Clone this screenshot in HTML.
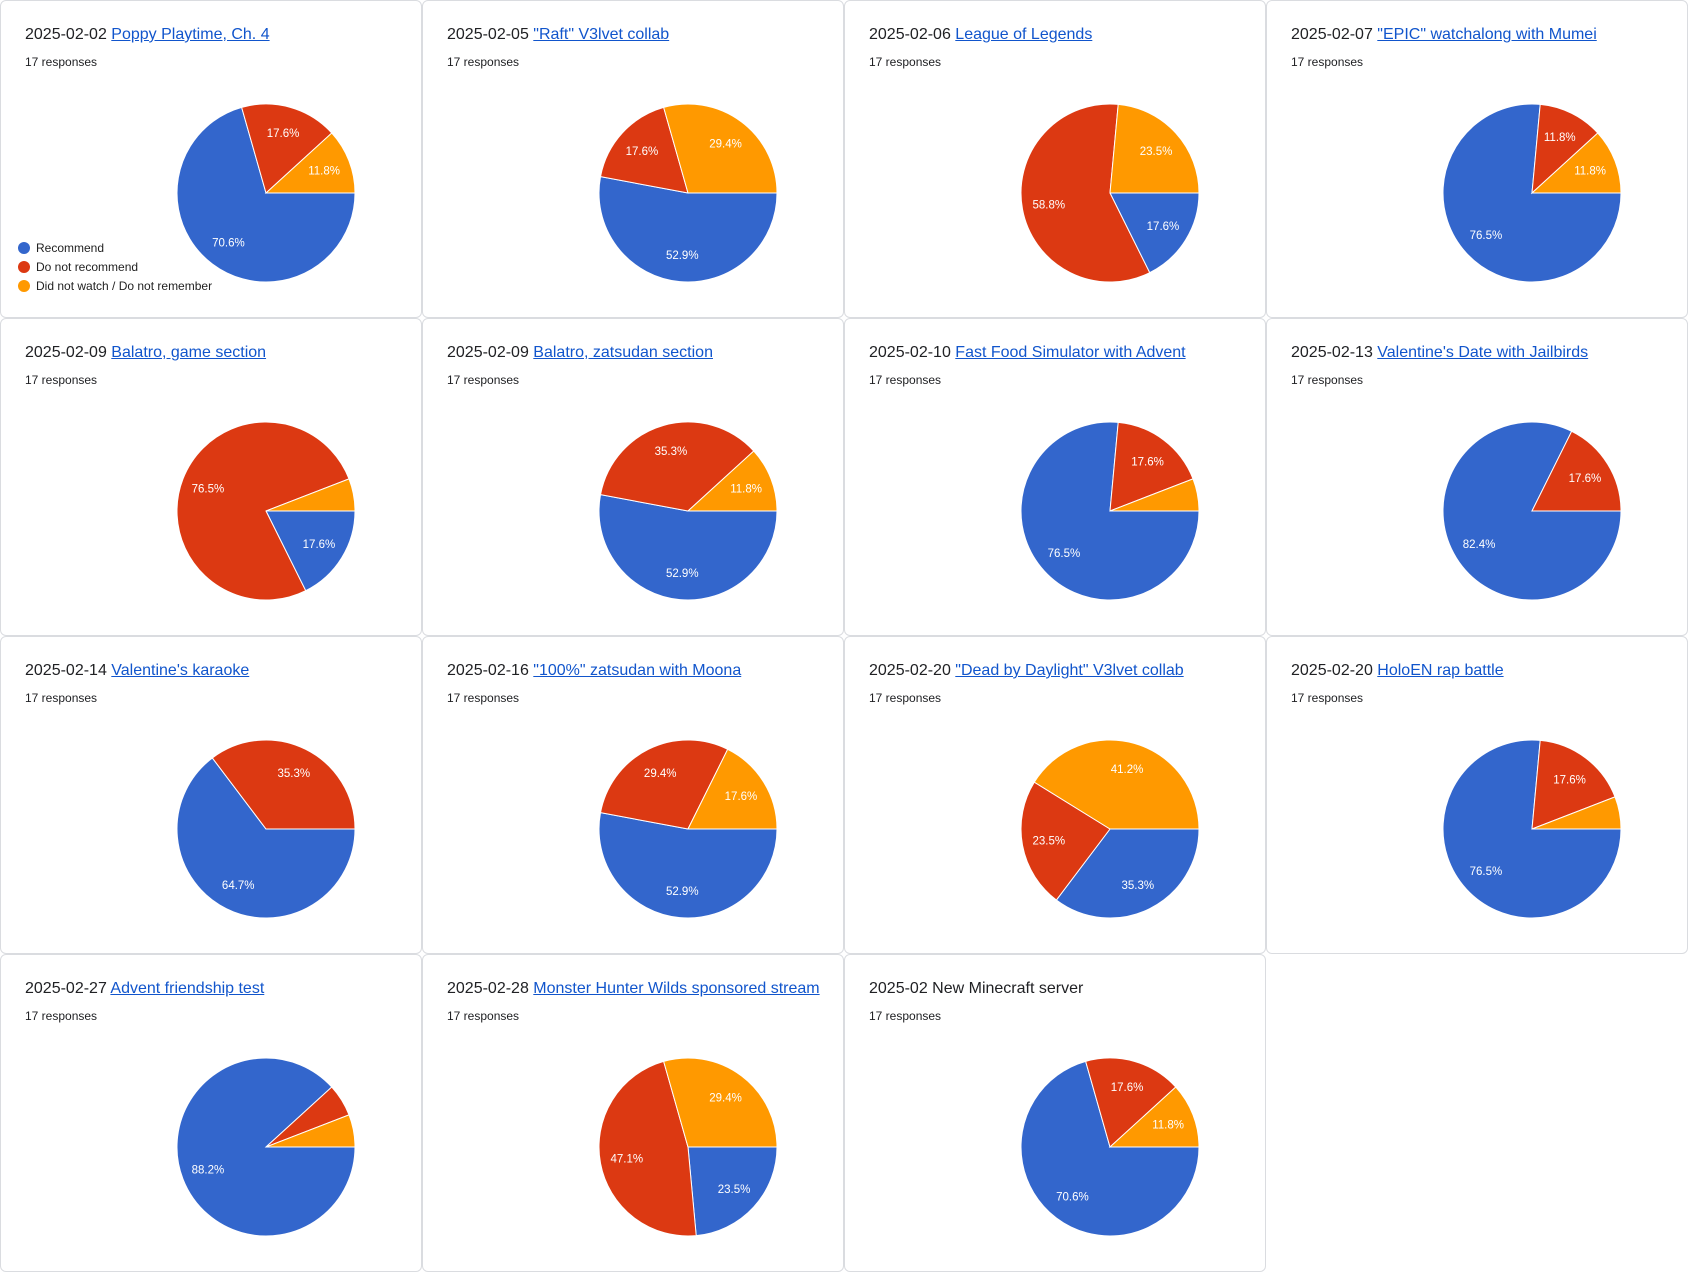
<!DOCTYPE html>
<html><head><meta charset="utf-8">
<style>
html,body{margin:0;padding:0;background:#fff;}
body{width:1688px;height:1272px;position:relative;overflow:hidden;font-family:"Liberation Sans",Arial,sans-serif;}
.card{position:absolute;width:420px;height:316px;border:1px solid #dadce0;border-radius:6px;background:#fff;box-sizing:content-box;}
.title{position:absolute;left:24px;top:25px;font-size:16px;color:#202124;white-space:nowrap;}
.title a{color:#1155cc;text-decoration:underline;}
.resp{position:absolute;left:24px;top:54px;font-size:12px;color:#202124;}
svg.pie{position:absolute;left:0;top:0;}
.legend{position:absolute;left:17px;top:237px;font-size:12px;color:#222;}
.legend div{height:19px;display:flex;align-items:center;}
.legend span.dot{width:12px;height:12px;border-radius:50%;display:inline-block;margin-right:6px;}
</style></head><body>
<script>
const titles=["Poppy Playtime, Ch. 4","\"Raft\" V3lvet collab","League of Legends","\"EPIC\" watchalong with Mumei","Balatro, game section","Balatro, zatsudan section","Fast Food Simulator with Advent","Valentine's Date with Jailbirds","Valentine's karaoke","\"100%\" zatsudan with Moona","\"Dead by Daylight\" V3lvet collab","HoloEN rap battle","Advent friendship test","Monster Hunter Wilds sponsored stream","New Minecraft server"];
const dates=["2025-02-02","2025-02-05","2025-02-06","2025-02-07","2025-02-09","2025-02-09","2025-02-10","2025-02-13","2025-02-14","2025-02-16","2025-02-20","2025-02-20","2025-02-27","2025-02-28","2025-02"];
const recommend=[12,9,3,13,3,9,13,14,11,9,6,13,15,4,12];
const notRecommend=[3,3,10,2,13,6,3,3,6,5,4,3,1,8,3];
const didNotWatch=[2,5,4,2,1,2,1,0,0,3,7,1,1,5,2];
const seriesNames=["Recommend","Do not recommend","Did not watch / Do not remember"];
const colors=["#3366cc","#dc3912","#ff9900"];
const CX=265,CY=192,R=89;
function pt(frac,r){const a=Math.PI/2+frac*2*Math.PI;return [CX+r*Math.sin(a),CY-r*Math.cos(a)];}
const NS="http://www.w3.org/2000/svg";
for(let i=0;i<titles.length;i++){
  const card=document.createElement('div');
  card.className='card';
  
  
  card.style.left=(i%4)*422+'px';card.style.top=Math.floor(i/4)*318+'px';
  const t=document.createElement('div');t.className='title';
  
  
  t.appendChild(document.createTextNode(dates[i]+' '));
  if(i<14){const a=document.createElement('a');a.href='#';a.textContent=titles[i];
    
    
    t.appendChild(a);}else t.appendChild(document.createTextNode(titles[i]));
  card.appendChild(t);
  const vals=[recommend[i],notRecommend[i],didNotWatch[i]];
  const tot=vals[0]+vals[1]+vals[2];
  const r=document.createElement('div');r.className='resp';r.textContent=tot+' responses';
  
  
  card.appendChild(r);
  const svg=document.createElementNS(NS,'svg');svg.setAttribute('class','pie');
  svg.setAttribute('width','420');svg.setAttribute('height','316');
  
  
  let acc=0;
  vals.forEach((v,k)=>{
    if(v<=0)return;
    const f0=acc/tot,f1=(acc+v)/tot;acc+=v;
    let el;
    if(v===tot){el=document.createElementNS(NS,'circle');el.setAttribute('cx',CX);el.setAttribute('cy',CY);el.setAttribute('r',R);}
    else{const p0=pt(f0,R),p1=pt(f1,R);const large=(f1-f0)>0.5?1:0;
      el=document.createElementNS(NS,'path');
      el.setAttribute('d',`M${CX},${CY}L${p0[0]},${p0[1]}A${R},${R} 0 ${large} 1 ${p1[0]},${p1[1]}Z`);}
    el.setAttribute('fill',colors[k]);el.setAttribute('stroke','#fff');el.setAttribute('stroke-width','1');
    
    
    svg.appendChild(el);
    if(v/tot>=0.08){const m=pt((f0+f1)/2,R*0.7);
      const tx=document.createElementNS(NS,'text');tx.setAttribute('x',m[0]);tx.setAttribute('y',m[1]+4);
      tx.setAttribute('text-anchor','middle');tx.setAttribute('font-size','11.5');tx.setAttribute('fill','#fff');
      tx.setAttribute('font-family','Liberation Sans, Arial, sans-serif');
      tx.textContent=(v/tot*100).toFixed(1)+'%';
      
      
      svg.appendChild(tx);}
  });
  card.appendChild(svg);
  if(i===0){const lg=document.createElement('div');lg.className='legend';
    
    
    seriesNames.forEach((n,k)=>{const d=document.createElement('div');
      
      
      d.innerHTML='<span class="dot" style="background:'+colors[k]+'"></span>'+n;lg.appendChild(d);});
    card.appendChild(lg);}
  document.body.appendChild(card);
}
</script>
</body></html>
